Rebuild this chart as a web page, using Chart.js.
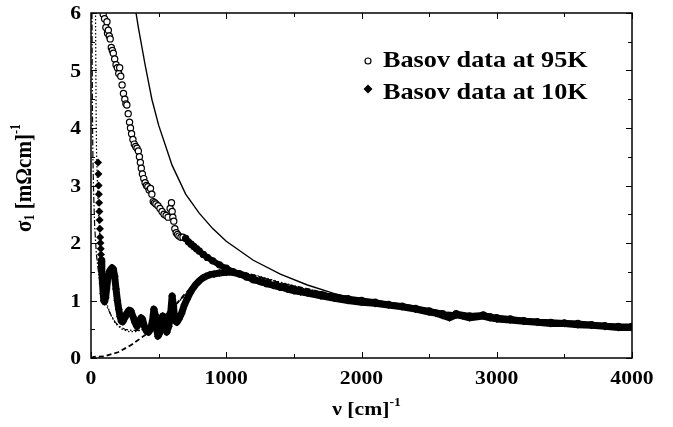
<!DOCTYPE html>
<html lang="en">
<head>
  <meta charset="UTF-8">
  <title>Optical conductivity</title>
  <script src="https://cdn.jsdelivr.net/npm/chart.js"></script>
  <style>
    body { margin: 0; background: #fff; }
  </style>
</head>
<body>
  <canvas id="sigmaChart" width="673" height="427"></canvas>

  <script>
    // tick labels
    const xTicks = [0, 1000, 2000, 3000, 4000];
    const yTicks = [0, 1, 2, 3, 4, 5, 6];

    // Basov data at 95K (open circles)
    const nu95 = [90, 100, 110, 118, 122, 128, 135, 142, 150, 158, 165, 175, 185, 195, 205, 212, 220, 230, 240, 250,
      258, 265, 275, 285, 292, 300, 310, 320, 330, 340, 350, 358, 365, 372, 380, 390, 400, 410, 420, 430,
      440, 450, 460, 470, 480, 495, 510, 525, 540, 555, 570, 585, 595, 600, 605, 612, 620, 630, 640, 650,
      665, 680, 700, 720, 740, 760, 780, 800, 830, 860, 900, 950, 1000, 1050, 1100, 1150, 1200, 1300, 1400, 1500,
      1600, 1700, 1800, 1900, 2000, 2100, 2200, 2300, 2400, 2500, 2600, 2650, 2700, 2800, 2900, 2950, 3000, 3100, 3200, 3300,
      3400, 3500, 3600, 3700, 3800, 3900, 4000];
    const sigma95 = [5.98, 5.9, 5.75, 5.85, 5.65, 5.7, 5.6, 5.55, 5.4, 5.35, 5.3, 5.2, 5.1, 5.05, 4.95, 5.05, 4.9, 4.75, 4.6, 4.5,
      4.42, 4.4, 4.25, 4.1, 4.0, 3.9, 3.8, 3.72, 3.68, 3.65, 3.6, 3.5, 3.4, 3.3, 3.2, 3.12, 3.05, 3.0, 2.98, 2.92,
      2.95, 2.85, 2.72, 2.7, 2.68, 2.65, 2.6, 2.55, 2.5, 2.48, 2.45, 2.6, 2.7, 2.55, 2.45, 2.38, 2.25, 2.18, 2.15, 2.12,
      2.1, 2.1, 2.08, 2.02, 1.98, 1.94, 1.9, 1.86, 1.8, 1.75, 1.69, 1.62, 1.56, 1.5, 1.46, 1.41, 1.36, 1.29, 1.23, 1.19,
      1.14, 1.1, 1.06, 1.03, 1.0, 0.97, 0.93, 0.9, 0.86, 0.82, 0.77, 0.73, 0.77, 0.73, 0.75, 0.72, 0.7, 0.68, 0.65, 0.63,
      0.62, 0.61, 0.6, 0.58, 0.56, 0.55, 0.55];

    // Basov data at 10K (filled diamonds)
    const nu10 = [52, 55, 57, 58, 60, 62, 64, 66, 68, 70, 72, 74, 76, 80, 85, 90, 95, 100, 108, 115,
      125, 140, 155, 165, 175, 185, 195, 205, 215, 225, 235, 250, 265, 280, 295, 310, 325, 340, 355, 370,
      380, 395, 410, 425, 440, 455, 465, 475, 485, 495, 505, 515, 530, 545, 560, 575, 590, 600, 610, 620,
      635, 650, 670, 690, 710, 730, 750, 775, 800, 825, 850, 880, 910, 950, 1000, 1050, 1100, 1150, 1200, 1250,
      1300, 1350, 1400, 1450, 1500, 1550, 1600, 1700, 1800, 1900, 2000, 2100, 2200, 2300, 2400, 2500, 2550, 2600, 2650, 2700,
      2750, 2800, 2900, 2950, 3000, 3100, 3200, 3300, 3400, 3500, 3600, 3700, 3800, 3900, 4000];
    const sigma10 = [3.4, 3.2, 3.0, 2.85, 2.7, 2.55, 2.4, 2.25, 2.1, 2.0, 1.9, 1.8, 1.7, 1.5, 1.3, 1.12, 1.0, 0.98, 1.05, 1.2,
      1.4, 1.52, 1.57, 1.55, 1.42, 1.2, 1.0, 0.85, 0.72, 0.64, 0.63, 0.7, 0.78, 0.83, 0.82, 0.72, 0.62, 0.55, 0.6, 0.7,
      0.68, 0.55, 0.47, 0.45, 0.5, 0.65, 0.85, 0.75, 0.5, 0.38, 0.42, 0.55, 0.73, 0.6, 0.45, 0.55, 0.8, 1.08, 0.9, 0.65,
      0.62, 0.68, 0.78, 0.92, 1.02, 1.12, 1.2, 1.28, 1.34, 1.39, 1.42, 1.45, 1.46, 1.48, 1.49, 1.49, 1.46, 1.42, 1.37, 1.33,
      1.3, 1.26, 1.24, 1.2, 1.17, 1.15, 1.13, 1.08, 1.04, 1.0, 0.97, 0.95, 0.92, 0.89, 0.85, 0.8, 0.78, 0.74, 0.7, 0.75,
      0.73, 0.7, 0.73, 0.7, 0.68, 0.66, 0.64, 0.62, 0.6, 0.6, 0.58, 0.57, 0.55, 0.53, 0.53];

    // solid curve
    const nuSolid = [320, 333, 350, 400, 450, 500, 600, 700, 800, 900, 1000, 1200, 1400, 1600, 1800, 2000, 2500, 3000, 3500, 4000];
    const sigmaSolid = [6.3, 6.0, 5.75, 5.1, 4.5, 4.05, 3.35, 2.85, 2.52, 2.25, 2.03, 1.7, 1.46, 1.27, 1.12, 1.01, 0.81, 0.68, 0.59, 0.52];

    // dashed curve
    const nuDashed = [0, 20, 100, 200, 300, 400, 500, 600, 700, 800, 900, 1000, 1100, 1200, 1400, 1600, 1800, 2000, 2500, 3000, 3500, 4000];
    const sigmaDashed = [0, 0.02, 0.03, 0.1, 0.23, 0.4, 0.58, 0.85, 1.13, 1.36, 1.48, 1.52, 1.5, 1.44, 1.3, 1.2, 1.1, 1.02, 0.83, 0.7, 0.61, 0.54];

    // dash-dot curve
    const nuDashDot = [7, 9, 11, 14, 19, 27, 40, 60, 90, 120, 150, 180, 210, 250, 300, 350, 400, 450, 500, 600,
      700, 800, 900, 1000, 1100, 1200, 1400, 1600, 1800, 2000, 2500, 3000, 3500, 4000];
    const sigmaDashDot = [6.2, 5.0, 4.2, 3.5, 2.9, 2.3, 1.8, 1.4, 1.06, 0.88, 0.74, 0.62, 0.55, 0.5, 0.48, 0.48, 0.51, 0.56, 0.64, 0.87,
      1.11, 1.33, 1.46, 1.5, 1.49, 1.44, 1.31, 1.19, 1.09, 1.01, 0.82, 0.69, 0.6, 0.53];

    // dotted curve
    const nuDotted = [33, 36, 38, 41, 48, 58, 72, 90, 110, 140, 180, 230, 280, 330, 380, 430, 500, 600, 700, 800,
      900, 1000, 1100, 1200, 1400, 1600, 1800, 2000, 2500, 3000, 3500, 4000];
    const sigmaDotted = [6.2, 5.0, 4.2, 3.6, 3.0, 2.4, 1.8, 1.3, 1.0, 0.78, 0.6, 0.5, 0.46, 0.46, 0.49, 0.53, 0.63, 0.86, 1.1, 1.32,
      1.45, 1.5, 1.5, 1.45, 1.32, 1.2, 1.1, 1.02, 0.83, 0.7, 0.61, 0.54];

    const legendLabels = ['Basov data at 95K', 'Basov data at 10K'];

    const SX = 1.14; // the original lettering is a little wide
    const serif = '"Liberation Serif", "DejaVu Serif", serif';

    function pts(xs, ys) {
      return xs.map((x, i) => ({ x: x, y: ys[i] }));
    }

    function wideText(ctx, text, x, y, size, align) {
      ctx.save();
      ctx.translate(x, y);
      ctx.scale(SX, 1);
      ctx.font = 'bold ' + size + 'px ' + serif;
      ctx.textAlign = align;
      ctx.textBaseline = 'alphabetic';
      ctx.fillText(text, 0, 0);
      ctx.restore();
    }

    // text runs: [text, size, baseline shift]
    function drawRuns(ctx, runs) {
      let w = 0;
      runs.forEach(r => { ctx.font = 'bold ' + r[1] + 'px ' + serif; w += ctx.measureText(r[0]).width; });
      let x = -w / 2;
      runs.forEach(r => {
        ctx.font = 'bold ' + r[1] + 'px ' + serif;
        ctx.fillText(r[0], x, r[2]);
        x += ctx.measureText(r[0]).width;
      });
    }

    const framePlugin = {
      id: 'frame',
      afterDraw(chart) {
        const ctx = chart.ctx;
        const a = chart.chartArea;
        const xs = chart.scales.x, ys = chart.scales.y;
        ctx.save();
        ctx.fillStyle = '#000';
        ctx.strokeStyle = '#000';

        // frame
        ctx.lineWidth = 1.5;
        ctx.strokeRect(a.left, a.top, a.right - a.left, a.bottom - a.top);

        // inward ticks
        ctx.lineWidth = 1;
        ctx.beginPath();
        for (let v = 0; v <= 4000; v += 500) {
          const px = Math.round(xs.getPixelForValue(v)) + 0.5;
          const len = v % 1000 === 0 ? 6 : 4;
          ctx.moveTo(px, a.bottom); ctx.lineTo(px, a.bottom - len);
          ctx.moveTo(px, a.top); ctx.lineTo(px, a.top + len);
        }
        for (let v = 0; v <= 6; v += 0.5) {
          const py = Math.round(ys.getPixelForValue(v)) + 0.5;
          const len = v % 1 === 0 ? 6 : 4;
          ctx.moveTo(a.left, py); ctx.lineTo(a.left + len, py);
          ctx.moveTo(a.right, py); ctx.lineTo(a.right - len, py);
        }
        ctx.stroke();

        // tick labels
        xTicks.forEach(v => wideText(ctx, String(v), xs.getPixelForValue(v), a.bottom + 26, 19, 'center'));
        yTicks.forEach(v => wideText(ctx, String(v), a.left - 10, ys.getPixelForValue(v) + 6, 19, 'right'));

        // axis titles
        ctx.textBaseline = 'alphabetic';
        ctx.save();
        ctx.translate((a.left + a.right) / 2 + 5, 415);
        ctx.scale(SX, 1);
        drawRuns(ctx, [['\u03bd [cm]', 19, 0], ['-1', 12, -9]]);
        ctx.restore();

        ctx.save();
        ctx.translate(31, 178);
        ctx.scale(SX, 1);
        ctx.rotate(-Math.PI / 2);
        drawRuns(ctx, [['\u03c3', 21, 0], ['1', 12, 3], [' [m\u03a9cm]', 21, 0], ['-1', 12, -10]]);
        ctx.restore();

        // legend
        ctx.lineWidth = 1.2;
        ctx.beginPath();
        ctx.arc(368, 61, 3, 0, Math.PI * 2);
        ctx.fillStyle = '#fff';
        ctx.fill();
        ctx.stroke();
        ctx.fillStyle = '#000';
        ctx.beginPath();
        ctx.moveTo(368, 89 - 4.5); ctx.lineTo(372.5, 89); ctx.lineTo(368, 89 + 4.5); ctx.lineTo(363.5, 89);
        ctx.closePath();
        ctx.fill();
        wideText(ctx, legendLabels[0], 383, 67, 23, 'left');
        wideText(ctx, legendLabels[1], 383, 99, 23, 'left');
        ctx.restore();
      }
    };

    const ctx = document.getElementById('sigmaChart').getContext('2d');
    new Chart(ctx, {
      type: 'scatter',
      data: {
        datasets: [
          {
            label: 'solid',
            data: pts(nuSolid, sigmaSolid),
            showLine: true,
            borderColor: '#000',
            borderWidth: 1.4,
            pointRadius: 0,
            order: 0
          },
          {
            label: 'dashed',
            data: pts(nuDashed, sigmaDashed),
            showLine: true,
            borderColor: '#000',
            borderWidth: 1.8,
            borderDash: [5, 3],
            pointRadius: 0,
            order: 0
          },
          {
            label: 'dash-dot',
            data: pts(nuDashDot, sigmaDashDot),
            showLine: true,
            borderColor: '#000',
            borderWidth: 1.2,
            borderDash: [6, 2, 1.5, 2],
            pointRadius: 0,
            order: 0
          },
          {
            label: 'dotted',
            data: pts(nuDotted, sigmaDotted),
            showLine: true,
            borderColor: '#000',
            borderWidth: 1.2,
            borderDash: [1.5, 2],
            pointRadius: 0,
            order: 0
          },
          {
            label: legendLabels[0],
            data: pts(nu95, sigma95),
            showLine: true,
            borderWidth: 6,
            borderJoinStyle: 'round',
            borderCapStyle: 'round',
            segment: {
              borderColor: c => c.p0.parsed.x >= 650 ? '#000' : 'rgba(0,0,0,0)'
            },
            pointStyle: 'circle',
            pointRadius: 3.1,
            pointBorderWidth: 1.2,
            pointBorderColor: '#000',
            pointBackgroundColor: c => (c.raw && c.raw.x < 700) ? '#fff' : '#000',
            order: 1
          },
          {
            label: legendLabels[1],
            data: pts(nu10, sigma10),
            showLine: true,
            borderWidth: 7,
            borderJoinStyle: 'round',
            borderCapStyle: 'round',
            segment: {
              borderColor: c => c.p0.parsed.x >= 76 ? '#000' : 'rgba(0,0,0,0)'
            },
            pointStyle: 'rectRot',
            pointRadius: 4,
            pointBorderWidth: 0,
            pointBackgroundColor: '#000',
            order: 2
          }
        ]
      },
      options: {
        responsive: false,
        animation: false,
        layout: { padding: { top: 13, right: 41, left: 0, bottom: 0 } },
        scales: {
          x: {
            type: 'linear',
            min: 0,
            max: 4000,
            grid: { display: false },
            border: { display: false },
            ticks: { display: false, stepSize: 500 },
            afterFit: s => { s.height = 69; }
          },
          y: {
            type: 'linear',
            min: 0,
            max: 6,
            grid: { display: false },
            border: { display: false },
            ticks: { display: false, stepSize: 0.5 },
            afterFit: s => { s.width = 91; }
          }
        },
        plugins: {
          legend: { display: false },
          tooltip: { enabled: false }
        }
      },
      plugins: [framePlugin]
    });
  </script>
</body>
</html>
